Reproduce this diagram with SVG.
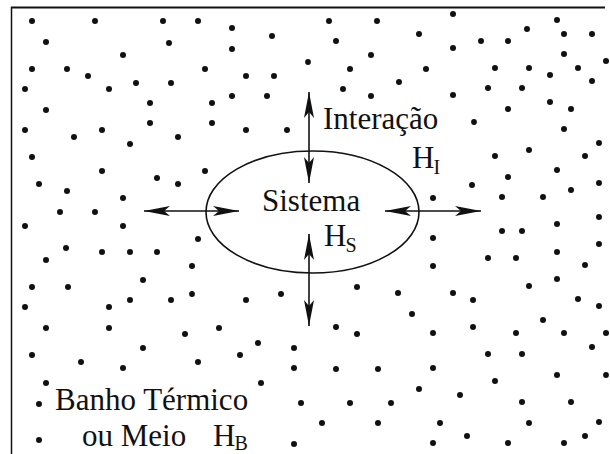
<svg xmlns="http://www.w3.org/2000/svg" width="610" height="454" viewBox="0 0 610 454">
<style>
.t{font-family:"Liberation Serif","Times New Roman",serif;font-size:31px;fill:#111}
.s{font-size:20px}
.d circle{fill:#111}
.h{fill:#fff;stroke:#111;stroke-width:1.4}
.c line{stroke:#111;stroke-width:1.6;fill:none}
</style>
<defs>
<marker id="ah" markerUnits="userSpaceOnUse" markerWidth="28" markerHeight="12" viewBox="-27 -6 28 12" refX="0" refY="0" orient="auto-start-reverse">
<path d="M0,0 L-26,-5 L-20,0 L-26,5 Z" fill="#111"/>
</marker>
</defs>
<rect width="610" height="454" fill="#fff"/>
<g id="frame" fill="none" stroke="#111">
<line x1="11" y1="7.5" x2="605" y2="7.5" stroke-width="2"/>
<line x1="11.5" y1="7" x2="11.5" y2="454" stroke-width="1.5"/>
</g>
<g id="bath-particles" class="d">
<circle cx="32" cy="21" r="3"/><circle cx="95" cy="21" r="3"/><circle cx="163" cy="21" r="3"/><circle cx="198" cy="21" r="3"/><circle cx="232" cy="28" r="3"/><circle cx="272" cy="36" r="3"/><circle cx="46" cy="42" r="3"/><circle cx="169" cy="43" r="3"/><circle cx="232" cy="49" r="3"/><circle cx="123" cy="55" r="3"/><circle cx="32" cy="69" r="3"/><circle cx="67" cy="69" r="3"/><circle cx="205" cy="69" r="3"/><circle cx="88" cy="76" r="3"/><circle cx="246" cy="76" r="3"/><circle cx="274" cy="76" r="3"/><circle cx="136" cy="83" r="3"/><circle cx="171" cy="83" r="3"/><circle cx="25" cy="89" r="3"/><circle cx="109" cy="89" r="3"/><circle cx="232" cy="96" r="3"/><circle cx="267" cy="96" r="3"/><circle cx="150" cy="103" r="3"/><circle cx="212" cy="103" r="3"/><circle cx="46" cy="110" r="3"/><circle cx="150" cy="123" r="3"/><circle cx="212" cy="123" r="3"/><circle cx="25" cy="130" r="3"/><circle cx="102" cy="130" r="3"/><circle cx="246" cy="130" r="3"/><circle cx="287" cy="130" r="3"/><circle cx="74" cy="137" r="3"/><circle cx="178" cy="137" r="3"/><circle cx="130" cy="144" r="3"/><circle cx="32" cy="157" r="3"/><circle cx="102" cy="171" r="3"/><circle cx="205" cy="171" r="3"/><circle cx="157" cy="178" r="3"/><circle cx="178" cy="184" r="3"/><circle cx="39" cy="184" r="3"/><circle cx="67" cy="191" r="3"/><circle cx="123" cy="198" r="3"/><circle cx="60" cy="212" r="3"/><circle cx="95" cy="212" r="3"/><circle cx="25" cy="226" r="3"/><circle cx="123" cy="226" r="3"/>
<circle cx="198" cy="239" r="3"/><circle cx="66" cy="248" r="3"/><circle cx="102" cy="252" r="3"/><circle cx="130" cy="252" r="3"/><circle cx="157" cy="252" r="3"/><circle cx="46" cy="260" r="3"/><circle cx="192" cy="266" r="3"/><circle cx="143" cy="280" r="3"/><circle cx="32" cy="287" r="3"/><circle cx="68" cy="287" r="3"/><circle cx="281" cy="294" r="3"/><circle cx="130" cy="300" r="3"/><circle cx="171" cy="300" r="3"/><circle cx="246" cy="300" r="3"/><circle cx="25" cy="307" r="3"/><circle cx="109" cy="307" r="3"/><circle cx="46" cy="328" r="3"/><circle cx="109" cy="328" r="3"/><circle cx="219" cy="328" r="3"/><circle cx="185" cy="334" r="3"/><circle cx="258" cy="343" r="3"/><circle cx="143" cy="348" r="3"/><circle cx="294" cy="348" r="3"/><circle cx="32" cy="355" r="3"/><circle cx="240" cy="355" r="3"/><circle cx="81" cy="362" r="3"/><circle cx="198" cy="362" r="3"/><circle cx="294" cy="368" r="3"/><circle cx="123" cy="368" r="3"/><circle cx="46" cy="383" r="3"/><circle cx="261" cy="383" r="3"/><circle cx="39" cy="404" r="3"/><circle cx="301" cy="403" r="3"/><circle cx="39" cy="440" r="3"/><circle cx="294" cy="444" r="3"/>
<circle cx="329" cy="21" r="3"/><circle cx="377" cy="21" r="3"/><circle cx="419" cy="34" r="3"/><circle cx="336" cy="41" r="3"/><circle cx="371" cy="55" r="3"/><circle cx="350" cy="69" r="3"/><circle cx="426" cy="69" r="3"/><circle cx="399" cy="82" r="3"/><circle cx="343" cy="89" r="3"/><circle cx="371" cy="96" r="3"/>
<circle cx="357" cy="287" r="3"/><circle cx="398" cy="293" r="3"/><circle cx="412" cy="314" r="3"/><circle cx="336" cy="327" r="3"/><circle cx="357" cy="334" r="3"/><circle cx="336" cy="369" r="3"/><circle cx="378" cy="369" r="3"/><circle cx="419" cy="389" r="3"/><circle cx="350" cy="403" r="3"/><circle cx="391" cy="403" r="3"/><circle cx="322" cy="423" r="3"/><circle cx="378" cy="423" r="3"/>
<circle cx="453" cy="14" r="3"/><circle cx="557" cy="20" r="3"/><circle cx="527" cy="29" r="3"/><circle cx="564" cy="34" r="3"/><circle cx="592" cy="34" r="3"/><circle cx="453" cy="48" r="3"/><circle cx="481" cy="41" r="3"/><circle cx="508" cy="41" r="3"/><circle cx="564" cy="54" r="3"/><circle cx="606" cy="61" r="3"/><circle cx="495" cy="68" r="3"/><circle cx="529" cy="68" r="3"/><circle cx="550" cy="75" r="3"/><circle cx="578" cy="68" r="3"/><circle cx="592" cy="81" r="3"/><circle cx="488" cy="88" r="3"/><circle cx="522" cy="88" r="3"/><circle cx="453" cy="95" r="3"/><circle cx="508" cy="109" r="3"/><circle cx="550" cy="102" r="3"/><circle cx="571" cy="109" r="3"/><circle cx="564" cy="129" r="3"/><circle cx="599" cy="143" r="3"/><circle cx="529" cy="150" r="3"/><circle cx="495" cy="156" r="3"/><circle cx="585" cy="156" r="3"/><circle cx="508" cy="177" r="3"/><circle cx="557" cy="170" r="3"/><circle cx="472" cy="185" r="3"/><circle cx="433" cy="198" r="3"/><circle cx="502" cy="197" r="3"/><circle cx="543" cy="197" r="3"/><circle cx="571" cy="190" r="3"/><circle cx="599" cy="183" r="3"/><circle cx="599" cy="217" r="3"/><circle cx="557" cy="224" r="3"/><circle cx="502" cy="231" r="3"/><circle cx="522" cy="231" r="3"/><circle cx="433" cy="238" r="3"/><circle cx="599" cy="244" r="3"/><circle cx="557" cy="252" r="3"/><circle cx="488" cy="258" r="3"/><circle cx="516" cy="258" r="3"/><circle cx="433" cy="266" r="3"/><circle cx="585" cy="265" r="3"/><circle cx="557" cy="279" r="3"/><circle cx="529" cy="286" r="3"/><circle cx="453" cy="293" r="3"/><circle cx="473" cy="300" r="3"/><circle cx="578" cy="299" r="3"/><circle cx="599" cy="306" r="3"/><circle cx="543" cy="320" r="3"/><circle cx="433" cy="333" r="3"/><circle cx="473" cy="327" r="3"/><circle cx="516" cy="333" r="3"/><circle cx="564" cy="333" r="3"/><circle cx="606" cy="333" r="3"/><circle cx="592" cy="347" r="3"/><circle cx="488" cy="354" r="3"/><circle cx="522" cy="354" r="3"/><circle cx="433" cy="368" r="3"/><circle cx="557" cy="375" r="3"/><circle cx="495" cy="381" r="3"/><circle cx="460" cy="395" r="3"/><circle cx="522" cy="402" r="3"/><circle cx="571" cy="402" r="3"/><circle cx="440" cy="423" r="3"/><circle cx="529" cy="423" r="3"/><circle cx="599" cy="422" r="3"/><circle cx="467" cy="436" r="3"/><circle cx="585" cy="436" r="3"/><circle cx="433" cy="443" r="3"/><circle cx="508" cy="443" r="3"/><circle cx="564" cy="443" r="3"/>
<circle class="h" cx="308" cy="62" r="2.2"/><circle class="h" cx="474" cy="122" r="2.2"/><circle class="h" cx="192" cy="294" r="2.2"/><circle class="h" cx="606" cy="375" r="2.2"/>
</g>
<g id="sistema">
<ellipse cx="312.5" cy="212" rx="106.5" ry="61" fill="none" stroke="#111" stroke-width="1.6"/>
<text class="t" x="262" y="211">Sistema</text>
<text class="t" x="324" y="246">H<tspan class="s" dx="-1" dy="6">S</tspan></text>
</g>
<g id="interacao">
<text class="t" x="323" y="129">Interação</text>
<text class="t" x="412" y="168">H<tspan class="s" dx="-1" dy="6">I</tspan></text>
</g>
<g id="banho">
<text class="t" x="55" y="410">Banho Térmico</text>
<text class="t" x="82" y="446">ou Meio</text>
<text class="t" x="213" y="446">H<tspan class="s" dx="-1" dy="4">B</tspan></text>
</g>
<g id="connectors" class="c">
<line x1="309" y1="183" x2="309" y2="92" marker-start="url(#ah)" marker-end="url(#ah)"/>
<line x1="309" y1="234" x2="309" y2="326" marker-start="url(#ah)" marker-end="url(#ah)"/>
<line x1="239" y1="211" x2="144" y2="211" marker-start="url(#ah)" marker-end="url(#ah)"/>
<line x1="385" y1="211" x2="481" y2="211" marker-start="url(#ah)" marker-end="url(#ah)"/>
</g>
</svg>
